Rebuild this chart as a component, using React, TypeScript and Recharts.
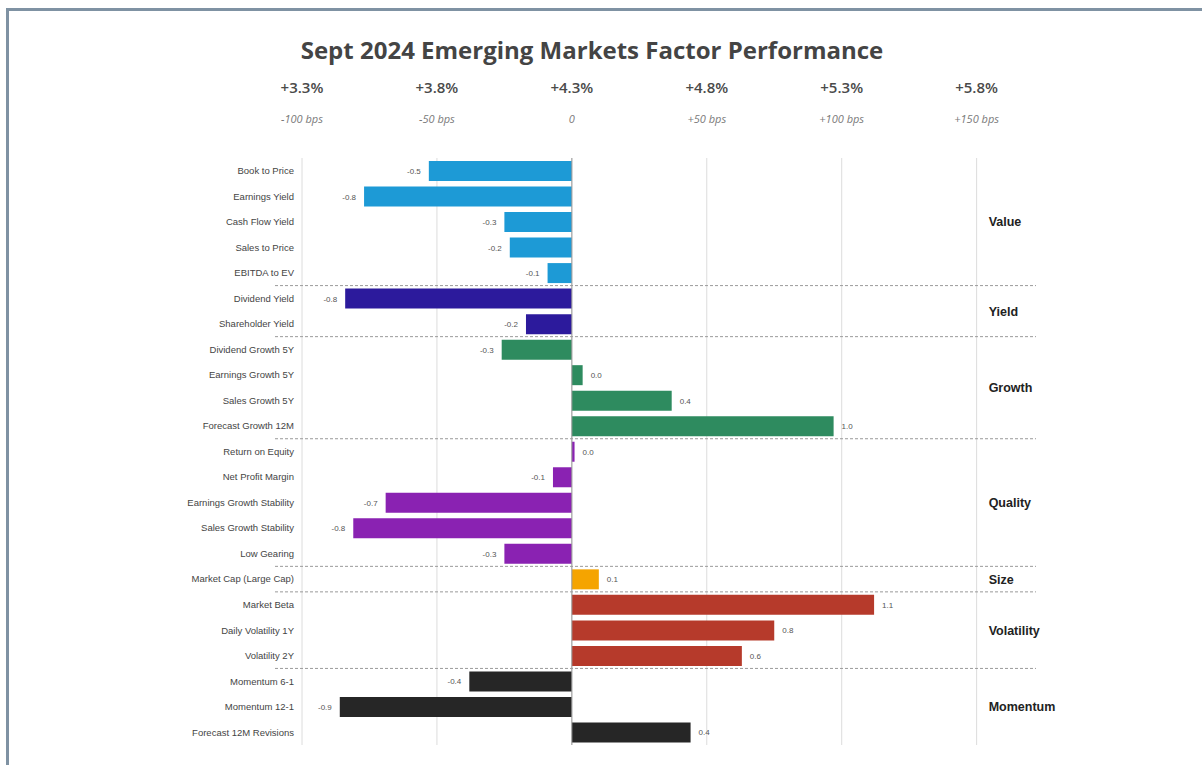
import { Bar, BarChart, CartesianGrid, Cell, LabelList, ReferenceArea, ReferenceLine, XAxis, YAxis } from "recharts";

const factors = [
  "Book to Price",
  "Earnings Yield",
  "Cash Flow Yield",
  "Sales to Price",
  "EBITDA to EV",
  "Dividend Yield",
  "Shareholder Yield",
  "Dividend Growth 5Y",
  "Earnings Growth 5Y",
  "Sales Growth 5Y",
  "Forecast Growth 12M",
  "Return on Equity",
  "Net Profit Margin",
  "Earnings Growth Stability",
  "Sales Growth Stability",
  "Low Gearing",
  "Market Cap (Large Cap)",
  "Market Beta",
  "Daily Volatility 1Y",
  "Volatility 2Y",
  "Momentum 6-1",
  "Momentum 12-1",
  "Forecast 12M Revisions"
];

const scores = [
  -0.53, -0.77, -0.25, -0.23, -0.09, -0.84, -0.17, -0.26, 0.04, 0.37, 0.97, 0.01,
  -0.07, -0.69, -0.81, -0.25, 0.1, 1.12, 0.75, 0.63, -0.38, -0.86, 0.44
];

const factorGroups = [
  "Value", "Value", "Value", "Value", "Value",
  "Yield", "Yield",
  "Growth", "Growth", "Growth", "Growth",
  "Quality", "Quality", "Quality", "Quality", "Quality",
  "Size",
  "Volatility", "Volatility", "Volatility",
  "Momentum", "Momentum", "Momentum"
];

const groupNames = ["Value", "Yield", "Growth", "Quality", "Size", "Volatility", "Momentum"];
const groupColors = ["#1d9ad6", "#2c1a9c", "#2e8b5f", "#8a22b2", "#f5a400", "#b63a2b", "#262626"];

const xDomain = [-1, 1.72];
const scenarioTicks = [-1, -0.5, 0, 0.5, 1, 1.5];
const scenarioReturns = ["+3.3%", "+3.8%", "+4.3%", "+4.8%", "+5.3%", "+5.8%"];
const scenarioShifts = ["-100 bps", "-50 bps", "0", "+50 bps", "+100 bps", "+150 bps"];

const data = factors.map((name, i) => ({ name, score: scores[i], group: factorGroups[i] }));

const groupRanges = groupNames.map((g) => {
  const members = data.filter((d) => d.group === g);
  return { group: g, first: members[0].name, last: members[members.length - 1].name };
});

function colorFor(group: string) {
  return groupColors[groupNames.indexOf(group)];
}

// grid only at the scenario ticks (the default also drew one at the domain edge)
function gridX(p: any) {
  const { left, width } = p.offset;
  return scenarioTicks.map((t) => left + ((t - xDomain[0]) / (xDomain[1] - xDomain[0])) * width);
}

function ScenarioTick(props: any) {
  const { x, y, payload } = props;
  const i = scenarioTicks.indexOf(payload.value);
  if (i < 0) return null;
  return (
    <g>
      <text x={x} y={y - 57} textAnchor="middle" fontFamily="'Open Sans', sans-serif" fontWeight={600} fontSize={15} fill="#4a4a4a">
        {scenarioReturns[i]}
      </text>
      <text x={x} y={y - 27} textAnchor="middle" fontFamily="'Open Sans', sans-serif" fontStyle="italic" fontSize={11} fill="#7a7a7a">
        {scenarioShifts[i]}
      </text>
    </g>
  );
}

function ValueLabel(props: any) {
  const { x, y, width, height, value } = props;
  const end = Number(x) + Number(width);
  const neg = value < 0;
  return (
    <text
      x={neg ? end - 8 : end + 8}
      y={Number(y) + Number(height) / 2}
      dy={3}
      textAnchor={neg ? "end" : "start"}
      fontFamily="'Liberation Sans', Arial, sans-serif"
      fontSize={8}
      fill="#555"
    >
      {Number(value).toFixed(1)}
    </text>
  );
}

export default function App() {
  return (
    <div style={{ position: "absolute", left: 0, top: 0, width: 1202, height: 765, overflow: "hidden", background: "#fff" }}>
      <div
        style={{
          position: "absolute",
          left: 6,
          top: 8,
          width: 1300,
          height: 900,
          borderLeft: "3px solid #7f92a3",
          borderTop: "3px solid #7f92a3"
        }}
      />
      <div
        style={{
          position: "absolute",
          left: 0,
          top: 33,
          width: 1184,
          textAlign: "center",
          fontFamily: "'Open Sans', sans-serif",
          fontWeight: 700,
          fontSize: 24,
          color: "#444"
        }}
      >
        Sept 2024 Emerging Markets Factor Performance
      </div>
      <div style={{ position: "absolute", left: 0, top: 0 }}>
        <BarChart
          width={1202}
          height={765}
          data={data}
          layout="vertical"
          margin={{ top: 128, right: 166, bottom: 20, left: 0 }}
          barSize={20}
        >
          <CartesianGrid horizontal={false} stroke="#dcdcdc" verticalCoordinatesGenerator={gridX} />
          <XAxis
            type="number"
            orientation="top"
            domain={xDomain}
            ticks={scenarioTicks}
            allowDataOverflow
            axisLine={false}
            tickLine={false}
            tick={<ScenarioTick />}
            height={30}
          />
          <YAxis
            type="category"
            dataKey="name"
            width={302}
            axisLine={false}
            tickLine={false}
            interval={0}
            tick={{ fontSize: 9.5, fill: "#444", fontFamily: "'Liberation Sans', Arial, sans-serif" }}
          />
          {groupRanges.map((r) => (
            <ReferenceArea
              key={r.group}
              x1={1.5}
              x2={1.72}
              y1={r.first}
              y2={r.last}
              fill="none"
              stroke="none"
              ifOverflow="visible"
              label={{
                value: r.group,
                position: "insideLeft",
                offset: 12,
                fill: "#222",
                fontSize: 12.5,
                fontWeight: 600,
                fontFamily: "'Liberation Sans', Arial, sans-serif"
              }}
            />
          ))}
          {groupRanges.slice(1).map((r) => (
            <ReferenceLine
              key={"sep-" + r.group}
              segment={[
                { x: -1.1, y: r.first },
                { x: 1.72, y: r.first }
              ]}
              position="start"
              ifOverflow="visible"
              stroke="#9a9a9a"
              strokeDasharray="3 2"
            />
          ))}
          <ReferenceLine x={0} stroke="#9a9a9a" />
          <Bar dataKey="score" isAnimationActive={false}>
            {data.map((d) => (
              <Cell key={d.name} fill={colorFor(d.group)} />
            ))}
            <LabelList dataKey="score" content={<ValueLabel />} />
          </Bar>
        </BarChart>
      </div>
    </div>
  );
}
